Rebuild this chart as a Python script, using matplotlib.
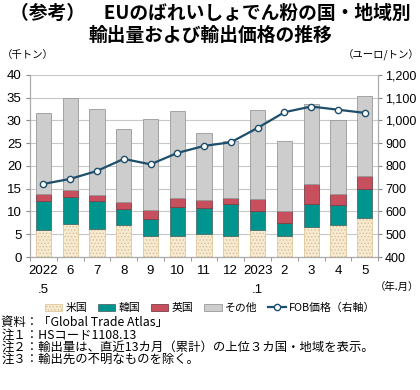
import matplotlib
matplotlib.use('Agg')
import matplotlib.pyplot as plt
import numpy as np

plt.rcParams['font.family'] = ['Noto Sans CJK JP', 'DejaVu Sans']
plt.rcParams['hatch.linewidth'] = 0.6

# Data
months = ['2022\n.5', '6', '7', '8', '9', '10', '11', '12', '2023\n.1', '2', '3', '4', '5']
usa = [5.9, 7.2, 6.2, 7.0, 4.6, 4.6, 5.0, 4.6, 5.9, 4.6, 6.7, 7.0, 8.6]
korea_top = [12.2, 13.1, 12.2, 10.5, 8.3, 11.0, 10.8, 11.6, 10.0, 7.4, 11.6, 11.4, 14.9]
uk_top = [13.9, 14.7, 13.6, 12.0, 10.3, 13.0, 12.5, 13.0, 12.7, 10.2, 16.0, 13.8, 17.8]
total = [31.6, 35.0, 32.5, 28.1, 30.3, 32.0, 27.2, 25.5, 32.3, 25.5, 33.6, 30.1, 35.4]
fob = [721, 743, 778, 831, 807, 857, 888, 904, 967, 1036, 1061, 1047, 1033]

usa = np.array(usa)
korea = np.array(korea_top) - usa
uk = np.array(uk_top) - np.array(korea_top)
other = np.array(total) - np.array(uk_top)

num_font = ['Liberation Sans']

fig = plt.figure(figsize=(4.2, 3.9), dpi=100)
ax = fig.add_axes([0.0714, 0.341, 0.829, 0.467])
x = np.arange(len(months))
w = 0.57

ax.set_axisbelow(True)
ax.yaxis.grid(True, color='#c8c8c8', linewidth=0.8)

b1 = ax.bar(x, usa, w, color='#f7ead2', edgecolor='#d8c08e', hatch='.....', linewidth=0.5, label='米国')
b2 = ax.bar(x, korea, w, bottom=usa, color='#00948f', edgecolor='#4d6e6c', linewidth=0.6, label='韓国')
b3 = ax.bar(x, uk, w, bottom=usa + korea, color='#c8505e', edgecolor='#7a4048', linewidth=0.6, label='英国')
b4 = ax.bar(x, other, w, bottom=usa + korea + uk, color='#cdcdcd', edgecolor='#999999', linewidth=0.6, label='その他')

ax.set_ylim(0, 40)
ax.set_yticks(range(0, 41, 5))
ax.set_xlim(-0.5, len(months) - 0.5)
ax.set_xticks(x)
ax.set_xticklabels(months, fontsize=9.5, family=num_font, linespacing=1.7)
ax.set_xticks(np.arange(-0.5, len(months), 1), minor=True)
ax.tick_params(axis='x', which='major', length=0, pad=6)
ax.tick_params(axis='x', which='minor', length=3, color='#888888')
ax.tick_params(axis='y', labelsize=9.5, length=3, color='#888888', pad=3)
for lab in ax.get_yticklabels():
    lab.set_family(num_font)

ax2 = ax.twinx()
line, = ax2.plot(x, fob, color='#1d4e6b', linewidth=1.6, marker='o', markersize=4.5,
                 markerfacecolor='white', markeredgecolor='#1d4e6b', markeredgewidth=1.0,
                 label='FOB価格（右軸）')
ax2.set_ylim(400, 1200)
ax2.set_yticks(range(400, 1201, 100))
ax2.set_yticklabels([f'{v:,}' for v in range(400, 1201, 100)], family=num_font)
ax2.tick_params(axis='y', labelsize=9, length=3, color='#888888', pad=2)

for a in (ax, ax2):
    a.spines['top'].set_visible(False)
    for s in ('left', 'right', 'bottom'):
        a.spines[s].set_color('#aaaaaa')

fig.text(0.5, 0.965, '（参考）　EUのばれいしょでん粉の国・地域別', ha='center', va='center', fontsize=13.5, fontweight='bold')
fig.text(0.5, 0.908, '輸出量および輸出価格の推移', ha='center', va='center', fontsize=13.5, fontweight='bold')
fig.text(0.005, 0.859, '（千トン）', ha='left', va='center', fontsize=7.5)
fig.text(0.998, 0.859, '（ユーロ/トン）', ha='right', va='center', fontsize=7.5)
fig.text(0.998, 0.264, '（年.月）', ha='right', va='center', fontsize=7.5)

fig.legend(handles=[b1, b2, b3, b4, line], loc='center', bbox_to_anchor=(0.5, 0.21), ncol=5,
           fontsize=7.8, frameon=False, handlelength=1.6, handletextpad=0.3, columnspacing=1.0)

notes = ['資料：「Global Trade Atlas」',
         '注１：HSコード1108.13',
         '注２：輸出量は、直近13カ月（累計）の上位３カ国・地域を表示。',
         '注３：輸出先の不明なものを除く。']
for i, t in enumerate(notes):
    fig.text(0.003, 0.172 - i * 0.031, t, ha='left', va='center', fontsize=8.9)

fig.savefig('out.png', dpi=100)
